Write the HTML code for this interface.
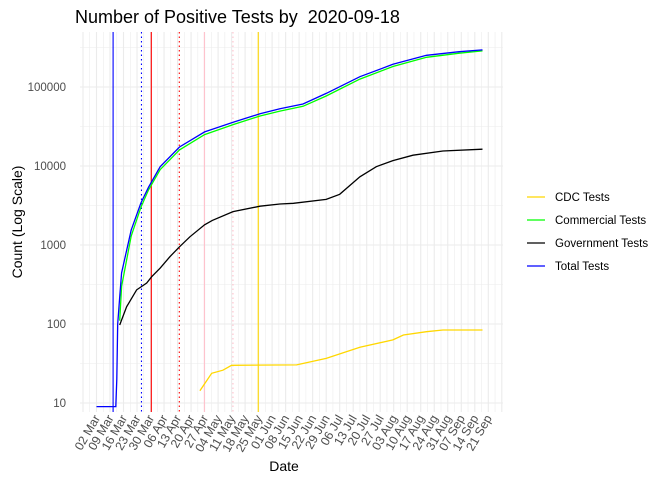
<!DOCTYPE html>
<html><head><meta charset="utf-8">
<style>
body{margin:0;background:#fff;}
svg{display:block;font-family:"Liberation Sans",sans-serif;}
</style></head>
<body>
<svg id="chart" width="672" height="480" viewBox="0 0 672 480">
<text x="75" y="23" font-size="18" fill="#000">Number of Positive Tests by &#160;2020-09-18</text>
<g id="grid"></g>
<g id="vlines"></g>
<g id="series"></g>
<g id="yaxis"></g>
<g id="xaxis"></g>
<text x="284" y="471" font-size="14" text-anchor="middle" fill="#000">Date</text>
<text transform="translate(22,222) rotate(-90)" font-size="14" text-anchor="middle" fill="#000">Count (Log Scale)</text>
<g id="legend"></g>
</svg>
<script>
// day offsets from 02 Mar 2020
const totalDays = [0,10,10.5,11,12,13,18,23,27,33,43,56,71,84.7,95,107,119,136.5,153.6,171,188,200];
const totalVals = [9,9,20,100,219,445,1550,3400,5400,9800,17400,27000,36000,45800,53000,61000,83000,135000,194000,252000,280000,295000];
const commDays = [12,13,18,23,27,33,43,56,71,84.7,95,107,119,136.5,153.6,171,188,200];
const commVals = [110,300,1300,3000,5000,9000,16000,25000,33500,43000,49500,57000,77000,126000,182000,238000,268000,286000];
const govDays = [12,15.6,20.8,26,28.6,33,38,43,48.4,56,60,70.7,84.7,95,102,119,126,136.5,145,153.6,164,179.5,200];
const govVals = [97,165,270,330,397,510,710,950,1270,1800,2050,2650,3100,3300,3370,3780,4380,7300,9800,11700,13700,15500,16300];
const cdcDays = [53.6,59.7,65.5,70,103.7,119,136.5,153.6,159,171,179.5,200];
const cdcVals = [14.3,23.8,26,30,30.4,36.7,50.7,63,72.5,80,84,84];
const eventDays = [8.6,23.3,28.4,42.9,55.9,70.7,83.8];
const eventColors = ["#0000FF","#0000FF","#FF0000","#FF0000","#FFC0CB","#FFC0CB","#FFD700"];
const eventDash = ["","1.5,3","","1.5,3","","1.5,3",""];
const yTicks = [10,100,1000,10000,100000];
const yTickLabels = ["10","100","1000","10000","100000"];
const xTickLabels = ["02 Mar","09 Mar","16 Mar","23 Mar","30 Mar","06 Apr","13 Apr","20 Apr","27 Apr","04 May","11 May","18 May","25 May","01 Jun","08 Jun","15 Jun","22 Jun","29 Jun","06 Jul","13 Jul","20 Jul","27 Jul","03 Aug","10 Aug","17 Aug","24 Aug","31 Aug","07 Sep","14 Sep","21 Sep"];

const L=80,R=503,T=32,B=412;
const x = d => 96.5 + d*1.93;
const y = v => 403 - (Math.log10(v)-1)*79;
const NS="http://www.w3.org/2000/svg";
function mk(tag,parent,attrs){const e=document.createElementNS(NS,tag);for(const k in attrs)e.setAttribute(k,attrs[k]);parent.appendChild(e);return e;}

const grid=document.getElementById('grid');
const bg=mk('rect',grid,{x:L,y:T,width:R-L,height:B-T,fill:'#fff'});


for(let k=-0.5;k<=4.5;k+=0.5){
  const yy=403-k*79;
  if(yy<T||yy>B)continue;
  const major=Number.isInteger(k);
  const ln=mk('line',grid,{x1:L,x2:R,y1:yy,y2:yy,stroke:'#ebebeb','stroke-width':major?1.1:0.55});
  
  
}
for(let d=-7;d<=217;d+=3.5){
  const xx=x(d); if(xx<L||xx>R)continue;
  const major=(Math.round(d/3.5)%2===0);
  const ln=mk('line',grid,{x1:xx,x2:xx,y1:T,y2:B,stroke:'#ebebeb','stroke-width':major?1.1:0.55});
  
  
}
const vl=document.getElementById('vlines');
eventDays.forEach((d,i)=>{
  const a={x1:x(d),x2:x(d),y1:T,y2:B,stroke:eventColors[i],'stroke-width':1.1};
  if(eventDash[i])a['stroke-dasharray']=eventDash[i];
  const ln=mk('line',vl,a);
  
  
});
const ser=document.getElementById('series');
function line(days,vals,color,name){
  const pts=days.map((d,i)=>x(d).toFixed(1)+','+y(vals[i]).toFixed(1)).join(' ');
  const p=mk('polyline',ser,{points:pts,fill:'none',stroke:color,'stroke-width':1.3});
  
  
}
line(cdcDays,cdcVals,'#FFD700','cdc-tests-line');
line(govDays,govVals,'#000000','government-tests-line');
line(commDays,commVals,'#00FF00','commercial-tests-line');
line(totalDays,totalVals,'#0000FF','total-tests-line');

const ya=document.getElementById('yaxis');
yTicks.forEach((v,i)=>{
  const t=mk('text',ya,{x:66,y:y(v)+4,'font-size':11.5,'text-anchor':'end',fill:'#4d4d4d'});
  t.textContent=yTickLabels[i];
  
  
});
const xa=document.getElementById('xaxis');
xTickLabels.forEach((s,i)=>{
  const xx=x(i*7);
  const t=mk('text',xa,{transform:`translate(${xx+4},${B+6}) rotate(-60)`,'font-size':12.3,'text-anchor':'end',fill:'#4d4d4d'});
  t.textContent=s;
  
  
});
const lg=document.getElementById('legend');
const legNames=["CDC Tests","Commercial Tests","Government Tests","Total Tests"];
const legColors=["#FFD700","#00FF00","#000000","#0000FF"];
legNames.forEach((n,i)=>{
  const yy=197+i*23;
  const ln=mk('line',lg,{x1:527,x2:545,y1:yy,y2:yy,stroke:legColors[i],'stroke-width':1.3});
  
  
  const t=mk('text',lg,{x:555,y:yy+4,'font-size':11.5,fill:'#000'});
  t.textContent=n;
  
  
});
</script>
</body></html>
